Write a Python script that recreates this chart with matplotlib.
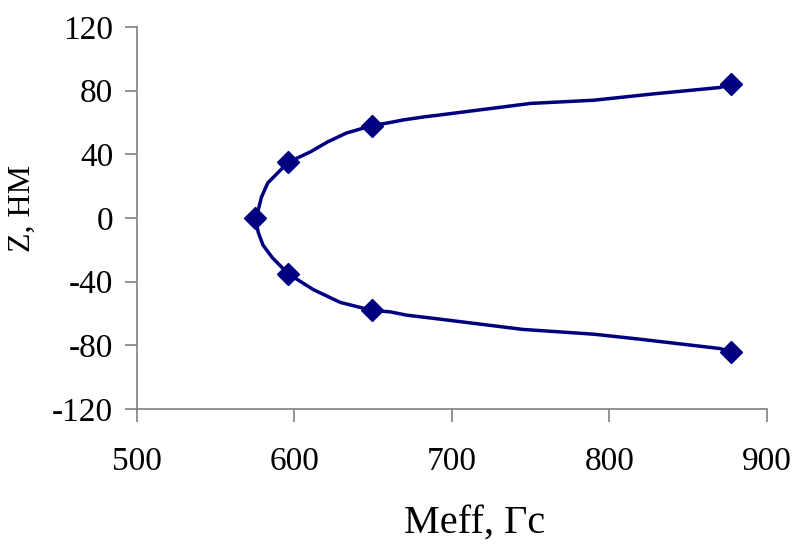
import matplotlib
matplotlib.use("Agg")
import matplotlib.pyplot as plt

plt.rcParams['font.family'] = ['Liberation Serif', 'DejaVu Serif']
plt.rcParams['axes.unicode_minus'] = False

# measured points (markers)
meff_pts = [575, 596, 649, 877, 596, 649, 877]
z_pts = [0, 35, 58, 84, -35, -58, -84]

# profile line, upper and lower branch
meff_up = [575, 577, 579, 583, 588, 596, 610, 621, 633, 649, 659, 669, 682, 692, 750, 790, 828, 870, 877]
z_up = [0, 5, 13, 22, 27, 35, 41.5, 47.8, 53.4, 58, 59.7, 61.6, 63.5, 64.7, 72, 74, 78, 82, 84]
meff_dn = [575, 577, 580, 586, 592, 596, 612, 629, 649, 661, 671, 692, 745, 790, 818, 870, 877]
z_dn = [0, -9, -17, -25, -31, -35, -45, -53, -58, -59, -61, -63.5, -70, -73, -76, -82, -84]

color = '#000080'

fig = plt.figure(figsize=(7.94, 5.47), dpi=100)
ax = fig.add_axes([0.1725, 0.2523, 0.7935, 0.6983])

ax.plot(meff_up, z_up, '-', color=color, lw=2.5, solid_joinstyle='round')
ax.plot(meff_dn, z_dn, '-', color=color, lw=2.5, solid_joinstyle='round')
ax.plot(meff_pts, z_pts, 'D', color=color, ms=11, ls='none')

ax.set_xlim(500, 900)
ax.set_ylim(-120, 120)
ax.set_xticks([500, 600, 700, 800, 900])
ax.set_yticks([-120, -80, -40, 0, 40, 80, 120])

for s in ['top', 'right']:
    ax.spines[s].set_visible(False)
for s in ['left', 'bottom']:
    ax.spines[s].set_color('#808080')
    ax.spines[s].set_linewidth(1.2)

ax.tick_params(direction='out', length=9, width=1.2, color='#808080',
               labelsize=24, pad=8)
ax.tick_params(axis='x', pad=18)
ax.set_xlabel('Meff, Гс', fontsize=29)
ax.xaxis.set_label_coords(0.536, -0.25)
ax.set_ylabel('Z, НМ', fontsize=23)
ax.yaxis.set_label_coords(-0.159, 0.526)

fig.savefig('out.png', dpi=100)
